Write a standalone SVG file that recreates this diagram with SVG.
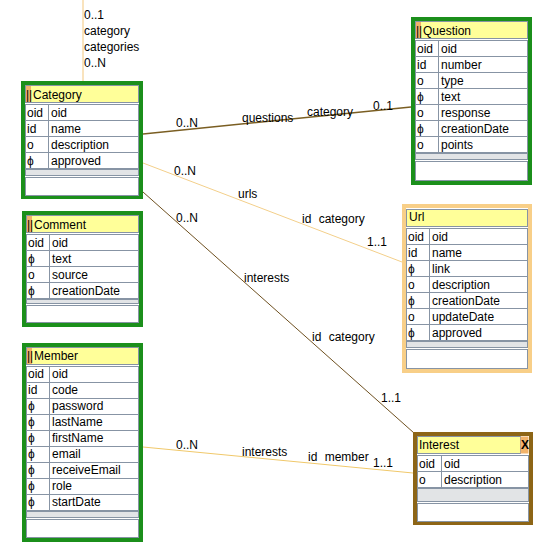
<svg xmlns="http://www.w3.org/2000/svg" width="541" height="549" viewBox="0 0 541 549">
<style>
text{font-family:"Liberation Sans",Arial,sans-serif;font-size:12px;fill:#000}
.ob{fill:#fff;stroke-width:4}
.gr{stroke:#1b8f1b}
.or{stroke:#f8cf88}
.br{stroke:#8d6516}
.t{fill:#ffff99;stroke:#8794a4;stroke-width:1}
.r{fill:#fff;stroke:#8794a4;stroke-width:1}
.s{fill:#e2e4e6;stroke:#8794a4;stroke-width:1}
.m{fill:#f2b36a}
.d{stroke:#8794a4;stroke-width:1}
.ws{word-spacing:4px}
</style>
<rect width="541" height="549" fill="#fff"/>
<g id="connectors" fill="none">
<line x1="83" y1="0" x2="83" y2="81" stroke="#f3c77c" stroke-width="1"/>
<line x1="143" y1="134" x2="411" y2="107" stroke="#7a5e22" stroke-width="1.5"/>
<line x1="143" y1="163" x2="402" y2="262" stroke="#f3cf8a" stroke-width="1"/>
<line x1="143" y1="192" x2="414" y2="433" stroke="#6e5020" stroke-width="1"/>
<line x1="143" y1="447" x2="413" y2="473" stroke="#f0c86a" stroke-width="1"/>
<text x="84" y="19">0..1</text>
<text x="84" y="35">category</text>
<text x="84" y="51">categories</text>
<text x="84" y="67">0..N</text>
<text x="176" y="127">0..N</text>
<text x="242" y="122">questions</text>
<text x="307" y="116">category</text>
<text x="373" y="110">0..1</text>
<text x="174" y="175">0..N</text>
<text x="238" y="198">urls</text>
<text x="302" y="223" class="ws">id category</text>
<text x="367" y="246">1..1</text>
<text x="176" y="222">0..N</text>
<text x="244" y="282">interests</text>
<text x="312" y="341" class="ws">id category</text>
<text x="381" y="402">1..1</text>
<text x="176" y="449">0..N</text>
<text x="242" y="456">interests</text>
<text x="308" y="461" class="ws">id member</text>
<text x="373" y="467">1..1</text>
</g>
<g id="category">
<rect class="ob gr" x="23" y="83" width="118" height="114"/>
<rect class="t" x="25.5" y="85.5" width="113" height="17"/>
<rect class="m" x="26" y="86" width="5" height="16"/>
<text x="26" y="99">||</text>
<text x="33" y="99">Category</text>
<rect class="r" x="25.5" y="104.5" width="113" height="16"/>
<rect class="r" x="25.5" y="120.5" width="113" height="16"/>
<rect class="r" x="25.5" y="136.5" width="113" height="16"/>
<rect class="r" x="25.5" y="152.5" width="113" height="16"/>
<line class="d" x1="48.5" y1="104.5" x2="48.5" y2="168.5"/>
<text x="27" y="116.5">oid</text><text x="51" y="116.5">oid</text>
<text x="27" y="132.5">id</text><text x="51" y="132.5">name</text>
<text x="27" y="148.5">o</text><text x="51" y="148.5">description</text>
<text x="27" y="164.5">ϕ</text><text x="51" y="164.5">approved</text>
<rect class="s" x="25.5" y="169.5" width="113" height="6"/>
<rect class="r" x="25.5" y="177.5" width="113" height="18"/>
</g>
<g id="question">
<rect class="ob gr" x="413" y="19" width="117" height="164"/>
<rect class="t" x="415.5" y="21.5" width="112" height="17"/>
<rect class="m" x="416" y="22" width="5" height="16"/>
<text x="416" y="35">||</text>
<text x="423" y="35">Question</text>
<rect class="r" x="415.5" y="40.5" width="112" height="16"/>
<rect class="r" x="415.5" y="56.5" width="112" height="16"/>
<rect class="r" x="415.5" y="72.5" width="112" height="16"/>
<rect class="r" x="415.5" y="88.5" width="112" height="16"/>
<rect class="r" x="415.5" y="104.5" width="112" height="16"/>
<rect class="r" x="415.5" y="120.5" width="112" height="16"/>
<rect class="r" x="415.5" y="136.5" width="112" height="16"/>
<line class="d" x1="438.5" y1="40.5" x2="438.5" y2="152.5"/>
<text x="417" y="52.5">oid</text><text x="441" y="52.5">oid</text>
<text x="417" y="68.5">id</text><text x="441" y="68.5">number</text>
<text x="417" y="84.5">o</text><text x="441" y="84.5">type</text>
<text x="417" y="100.5">ϕ</text><text x="441" y="100.5">text</text>
<text x="417" y="116.5">o</text><text x="441" y="116.5">response</text>
<text x="417" y="132.5">ϕ</text><text x="441" y="132.5">creationDate</text>
<text x="417" y="148.5">o</text><text x="441" y="148.5">points</text>
<rect class="s" x="415.5" y="153.5" width="112" height="6"/>
<rect class="r" x="415.5" y="161.5" width="112" height="19"/>
</g>
<g id="url">
<rect class="ob or" x="404" y="206" width="126" height="165"/>
<rect class="t" x="406.5" y="209.5" width="121" height="17"/>
<text x="409" y="221">Url</text>
<rect class="r" x="406.5" y="228.5" width="121" height="16"/>
<rect class="r" x="406.5" y="244.5" width="121" height="16"/>
<rect class="r" x="406.5" y="260.5" width="121" height="16"/>
<rect class="r" x="406.5" y="276.5" width="121" height="16"/>
<rect class="r" x="406.5" y="292.5" width="121" height="16"/>
<rect class="r" x="406.5" y="308.5" width="121" height="16"/>
<rect class="r" x="406.5" y="324.5" width="121" height="16"/>
<line class="d" x1="429.5" y1="228.5" x2="429.5" y2="340.5"/>
<text x="408" y="240.5">oid</text><text x="432" y="240.5">oid</text>
<text x="408" y="256.5">id</text><text x="432" y="256.5">name</text>
<text x="408" y="272.5">ϕ</text><text x="432" y="272.5">link</text>
<text x="408" y="288.5">o</text><text x="432" y="288.5">description</text>
<text x="408" y="304.5">ϕ</text><text x="432" y="304.5">creationDate</text>
<text x="408" y="320.5">o</text><text x="432" y="320.5">updateDate</text>
<text x="408" y="336.5">ϕ</text><text x="432" y="336.5">approved</text>
<rect class="s" x="406.5" y="341.5" width="121" height="6"/>
<rect class="r" x="406.5" y="349.5" width="121" height="19"/>
</g>
<g id="comment">
<rect class="ob gr" x="24" y="213" width="117" height="112"/>
<rect class="t" x="26.5" y="215.5" width="112" height="17"/>
<rect class="m" x="27" y="216" width="5" height="16"/>
<text x="27" y="229">||</text>
<text x="34" y="229">Comment</text>
<rect class="r" x="26.5" y="234.5" width="112" height="16"/>
<rect class="r" x="26.5" y="250.5" width="112" height="16"/>
<rect class="r" x="26.5" y="266.5" width="112" height="16"/>
<rect class="r" x="26.5" y="282.5" width="112" height="16"/>
<line class="d" x1="49.5" y1="234.5" x2="49.5" y2="298.5"/>
<text x="28" y="246.5">oid</text><text x="52" y="246.5">oid</text>
<text x="28" y="262.5">ϕ</text><text x="52" y="262.5">text</text>
<text x="28" y="278.5">o</text><text x="52" y="278.5">source</text>
<text x="28" y="294.5">ϕ</text><text x="52" y="294.5">creationDate</text>
<rect class="s" x="26.5" y="299.5" width="112" height="4"/>
<rect class="r" x="26.5" y="305.5" width="112" height="17"/>
</g>
<g id="member">
<rect class="ob gr" x="24" y="345" width="117" height="195"/>
<rect class="t" x="26.5" y="347.5" width="112" height="17"/>
<rect class="m" x="27" y="348" width="5" height="16"/>
<text x="27" y="360">||</text>
<text x="34" y="360">Member</text>
<rect class="r" x="26.5" y="366.5" width="112" height="16"/>
<rect class="r" x="26.5" y="382.5" width="112" height="16"/>
<rect class="r" x="26.5" y="398.5" width="112" height="16"/>
<rect class="r" x="26.5" y="414.5" width="112" height="16"/>
<rect class="r" x="26.5" y="430.5" width="112" height="16"/>
<rect class="r" x="26.5" y="446.5" width="112" height="16"/>
<rect class="r" x="26.5" y="462.5" width="112" height="16"/>
<rect class="r" x="26.5" y="478.5" width="112" height="16"/>
<rect class="r" x="26.5" y="494.5" width="112" height="16"/>
<line class="d" x1="49.5" y1="366.5" x2="49.5" y2="510.5"/>
<text x="28" y="378">oid</text><text x="52" y="378">oid</text>
<text x="28" y="394">id</text><text x="52" y="394">code</text>
<text x="28" y="410">ϕ</text><text x="52" y="410">password</text>
<text x="28" y="426">ϕ</text><text x="52" y="426">lastName</text>
<text x="28" y="442">ϕ</text><text x="52" y="442">firstName</text>
<text x="28" y="458">ϕ</text><text x="52" y="458">email</text>
<text x="28" y="474">ϕ</text><text x="52" y="474">receiveEmail</text>
<text x="28" y="490">ϕ</text><text x="52" y="490">role</text>
<text x="28" y="506">ϕ</text><text x="52" y="506">startDate</text>
<rect class="s" x="26.5" y="511.5" width="112" height="6"/>
<rect class="r" x="26.5" y="519.5" width="112" height="18"/>
</g>
<g id="interest">
<rect class="ob br" x="415" y="434" width="116" height="89"/>
<rect class="t" x="417.5" y="436.5" width="103" height="17"/>
<rect class="m" x="520.5" y="436.5" width="8" height="17"/>
<text x="521" y="449" style="font-weight:bold">X</text>
<text x="419" y="449">Interest</text>
<rect class="r" x="417.5" y="455.5" width="111" height="16"/>
<rect class="r" x="417.5" y="471.5" width="111" height="16"/>
<line class="d" x1="441.5" y1="455.5" x2="441.5" y2="487.5"/>
<text x="419" y="468">oid</text><text x="444" y="468">oid</text>
<text x="419" y="484">o</text><text x="444" y="484">description</text>
<rect class="s" x="417.5" y="488.5" width="111" height="13"/>
<rect class="r" x="417.5" y="503.5" width="111" height="18"/>
</g>
</svg>
